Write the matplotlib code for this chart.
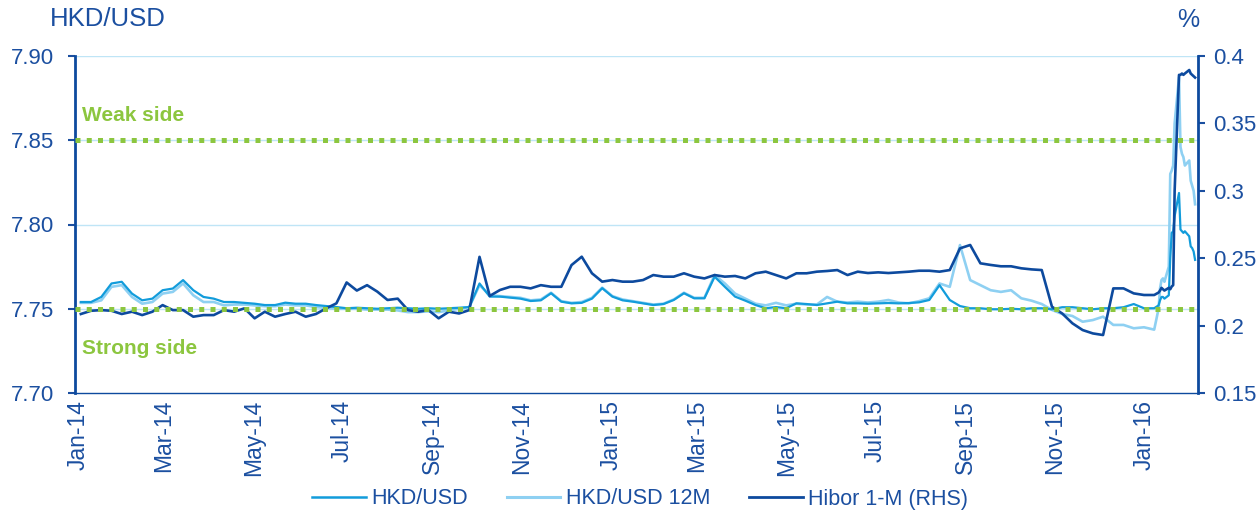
import matplotlib
matplotlib.use("Agg")
import matplotlib.pyplot as plt
import matplotlib.dates as mdates
from matplotlib.lines import Line2D
import pandas as pd

plt.rcParams['font.family'] = ['Liberation Sans', 'DejaVu Sans']

# ---------------- data ----------------
weekly_dates = pd.date_range('2014-01-03', '2016-01-08', freq='W-FRI')
daily_dates = pd.date_range('2016-01-11', '2016-02-05', freq='B')
dates = list(weekly_dates) + list(daily_dates)

hkd_usd = [
    7.7540, 7.7540, 7.7570, 7.7650, 7.7660, 7.7590, 7.7550, 7.7560, 7.7610, 7.7620,
    7.7670, 7.7610, 7.7570, 7.7560, 7.7540, 7.7540, 7.7535, 7.7530, 7.7522, 7.7522,
    7.7536, 7.7530, 7.7530, 7.7522, 7.7516, 7.7510, 7.7503, 7.7506, 7.7503, 7.7500,
    7.7503, 7.7506, 7.7503, 7.7500, 7.7503, 7.7500, 7.7503, 7.7506, 7.7510, 7.7650,
    7.7572, 7.7572, 7.7566, 7.7560, 7.7546, 7.7550, 7.7592, 7.7542, 7.7532, 7.7535,
    7.7560, 7.7622, 7.7572, 7.7550, 7.7542, 7.7532, 7.7522, 7.7528, 7.7552, 7.7592,
    7.7562, 7.7562, 7.7690, 7.7630, 7.7572, 7.7548, 7.7522, 7.7503, 7.7510, 7.7503,
    7.7532, 7.7528, 7.7522, 7.7532, 7.7542, 7.7532, 7.7532, 7.7530, 7.7532, 7.7534,
    7.7532, 7.7534, 7.7538, 7.7552, 7.7640, 7.7552, 7.7516, 7.7503, 7.7503, 7.7497,
    7.7497, 7.7500, 7.7497, 7.7503, 7.7503, 7.7497, 7.7509, 7.7509, 7.7503, 7.7497,
    7.7503, 7.7503, 7.7509, 7.7528, 7.7503, 7.7503,
    # daily, Jan 11 - Feb 5 2016
    7.7520, 7.7550, 7.7570, 7.7570, 7.7560, 7.7580, 7.7800, 7.7950, 7.7960, 7.8050,
    7.8187, 7.7970, 7.7960, 7.7950, 7.7960, 7.7930, 7.7870, 7.7860, 7.7840, 7.7790,
]

hkd_usd_12m = [
    7.7535, 7.7535, 7.7550, 7.7630, 7.7640, 7.7570, 7.7530, 7.7540, 7.7590, 7.7600,
    7.7650, 7.7580, 7.7540, 7.7540, 7.7520, 7.7525, 7.7525, 7.7520, 7.7515, 7.7515,
    7.7525, 7.7520, 7.7520, 7.7510, 7.7505, 7.7500, 7.7500, 7.7500, 7.7495, 7.7495,
    7.7495, 7.7490, 7.7480, 7.7480, 7.7485, 7.7480, 7.7490, 7.7500, 7.7510, 7.7640,
    7.7580, 7.7575, 7.7570, 7.7565, 7.7550, 7.7555, 7.7595, 7.7545, 7.7535, 7.7540,
    7.7565, 7.7625, 7.7575, 7.7555, 7.7545, 7.7535, 7.7525, 7.7530, 7.7555, 7.7595,
    7.7565, 7.7565, 7.7700, 7.7650, 7.7590, 7.7560, 7.7530, 7.7520, 7.7535, 7.7520,
    7.7530, 7.7525, 7.7525, 7.7570, 7.7542, 7.7537, 7.7542, 7.7537, 7.7542, 7.7552,
    7.7537, 7.7532, 7.7545, 7.7562, 7.7650, 7.7630, 7.7878, 7.7670, 7.7640, 7.7610,
    7.7600, 7.7610, 7.7562, 7.7548, 7.7528, 7.7493, 7.7469, 7.7457, 7.7423, 7.7433,
    7.7453, 7.7404, 7.7404, 7.7384, 7.7390, 7.7376,
    # daily, Jan 11 - Feb 5 2016
    7.7500, 7.7620, 7.7670, 7.7680, 7.7660, 7.7750, 7.8300, 7.8320, 7.8350, 7.8600,
    7.8875, 7.8460, 7.8420, 7.8400, 7.8350, 7.8380, 7.8260, 7.8230, 7.8200, 7.8120,
]

hibor_1m = [
    0.2086, 0.2110, 0.2115, 0.2110, 0.2086, 0.2103, 0.2078, 0.2103, 0.2152, 0.2115,
    0.2115, 0.2066, 0.2078, 0.2078, 0.2115, 0.2103, 0.2128, 0.2054, 0.2103, 0.2066,
    0.2086, 0.2103, 0.2066, 0.2086, 0.2128, 0.2165, 0.2320, 0.2260, 0.2300, 0.2252,
    0.2190, 0.2200, 0.2115, 0.2103, 0.2115, 0.2054, 0.2103, 0.2090, 0.2115, 0.2510,
    0.2220, 0.2264, 0.2288, 0.2288, 0.2276, 0.2300, 0.2288, 0.2288, 0.2449, 0.2511,
    0.2388, 0.2326, 0.2338, 0.2326, 0.2326, 0.2338, 0.2375, 0.2363, 0.2363, 0.2388,
    0.2363, 0.2350, 0.2375, 0.2363, 0.2368, 0.2350, 0.2388, 0.2400, 0.2375, 0.2350,
    0.2388, 0.2388, 0.2400, 0.2405, 0.2412, 0.2375, 0.2400, 0.2390, 0.2395, 0.2390,
    0.2395, 0.2400, 0.2407, 0.2407, 0.2400, 0.2412, 0.2573, 0.2598, 0.2462, 0.2450,
    0.2440, 0.2440, 0.2425, 0.2417, 0.2412, 0.2140, 0.2090, 0.2017, 0.1967, 0.1942,
    0.1930, 0.2276, 0.2276, 0.2239, 0.2227, 0.2227,
    # daily, Jan 11 - Feb 5 2016
    0.2245, 0.2260, 0.2280, 0.2270, 0.2260, 0.2280, 0.2270, 0.2290, 0.2300, 0.3000,
    0.3860, 0.3860, 0.3870, 0.3860, 0.3870, 0.3896, 0.3870, 0.3860, 0.3850, 0.3840,
]

weak_side = 7.85
strong_side = 7.75

left_ticks = [7.70, 7.75, 7.80, 7.85, 7.90]
right_ticks = [0.15, 0.2, 0.25, 0.3, 0.35, 0.4]
right_labels = ['0.15', '0.2', '0.25', '0.3', '0.35', '0.4']
month_ticks = pd.date_range('2014-01-01', '2016-01-01', freq='2MS')
month_labels = [d.strftime('%b-%y') for d in month_ticks]

# ---------------- style ----------------
c_hkd = '#129CDB'
c_12m = '#8ED0F2'
c_hibor = '#0D4A9E'
c_text = '#1B4FA0'
c_green = '#8CC63F'
c_grid = '#BFE5F6'

W, H = 1258, 513
fig = plt.figure(figsize=(W / 100, H / 100), dpi=100)
ax = fig.add_axes([75 / W, 1 - 393 / H, (1198 - 75) / W, (393 - 56) / H])
ax2 = ax.twinx()

ax.plot(dates, hkd_usd_12m, color=c_12m, lw=1.9, zorder=3)
ax.plot(dates, hkd_usd, color=c_hkd, lw=1.6, zorder=4)
ax2.plot(dates, hibor_1m, color=c_hibor, lw=1.9, zorder=3)

xmin = pd.Timestamp('2013-12-30')
xmax = pd.Timestamp('2016-02-07')
for yv in (weak_side, strong_side):
    ax2.plot([xmin, xmax], [yv, yv], transform=ax.transData, color=c_green,
             lw=3.6, linestyle=(0, (1, 1.25)), dash_capstyle='butt', zorder=5,
             scalex=False, scaley=False)

ax.set_xlim(xmin, xmax)
ax.set_ylim(7.70, 7.90)
ax2.set_ylim(0.15, 0.40)

ax.set_yticks(left_ticks)
ax.set_yticklabels([f'{v:.2f}' for v in left_ticks])
ax2.set_yticks(right_ticks)
ax2.set_yticklabels(right_labels)
ax.set_xticks(month_ticks)
ax.set_xticklabels(month_labels, rotation=90)

for t in left_ticks[1:]:
    ax.axhline(t, color=c_grid, lw=1.0, zorder=0)

for a in (ax, ax2):
    a.spines['top'].set_visible(False)
    for s in ('left', 'right', 'bottom'):
        a.spines[s].set_color(c_hibor)
    a.spines['left'].set_linewidth(2.0)
    a.spines['right'].set_linewidth(2.0)
    a.spines['bottom'].set_linewidth(1.0)
ax.spines['right'].set_visible(False)
ax2.spines['left'].set_visible(False)
ax2.spines['bottom'].set_visible(False)

ax.tick_params(axis='y', colors=c_text, labelsize=16, length=5, width=1.5,
               direction='out', pad=10)
ax2.tick_params(axis='y', colors=c_text, labelsize=16, length=5, width=1.5,
                direction='out', pad=6)
ax.tick_params(axis='x', colors=c_text, labelsize=16.5, length=0, pad=5)

ax.text(pd.Timestamp('2014-01-04'), 7.8645, 'Weak side', color=c_green,
        fontsize=15, fontweight='bold', va='center', ha='left')
ax.text(pd.Timestamp('2014-01-04'), 7.7265, 'Strong side', color=c_green,
        fontsize=15, fontweight='bold', va='center', ha='left')

fig.text(50 / W, 1 - 19 / H, 'HKD/USD', color=c_text, fontsize=18.5,
         ha='left', va='center')
fig.text(1188 / W, 1 - 20 / H, '%', color=c_text, fontsize=18,
         ha='center', va='center')

handles = [Line2D([], [], color=c_hkd, lw=1.8),
           Line2D([], [], color=c_12m, lw=2.2),
           Line2D([], [], color=c_hibor, lw=2.0)]
leg = fig.legend(handles, ['HKD/USD', 'HKD/USD 12M', 'Hibor 1-M (RHS)'],
                 loc='center', bbox_to_anchor=(640 / W, 1 - 499 / H), ncol=3,
                 frameon=False, fontsize=15.5, handlelength=2.5,
                 handletextpad=0.25, columnspacing=1.8)
for t in leg.get_texts():
    t.set_color(c_text)

fig.savefig('out.png', dpi=100)
